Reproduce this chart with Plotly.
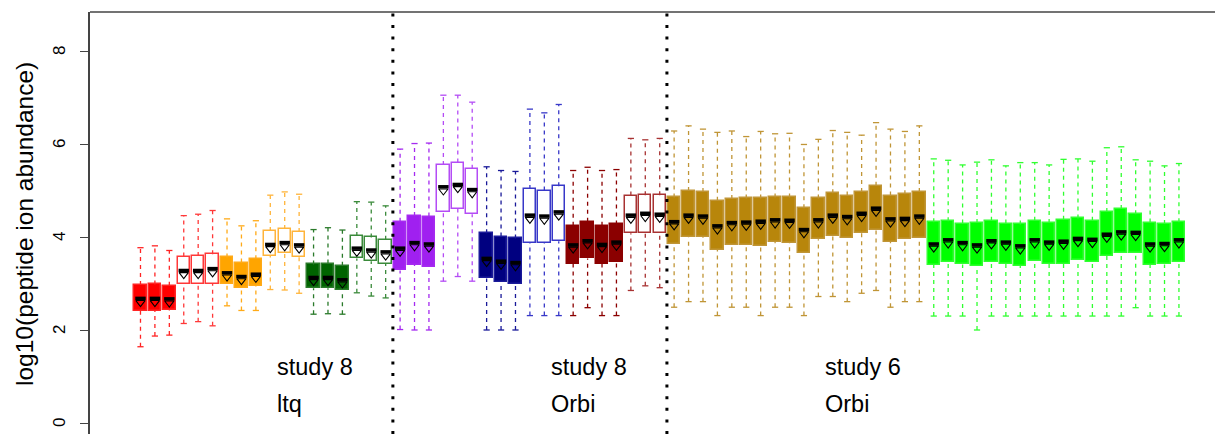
import plotly.graph_objects as go

# Per-run summaries of log10(peptide ion abundance):
# lower whisker, first quartile, median, third quartile, upper whisker, mean
whisker_low = [
    1.64, 1.87, 1.89, 2.14, 2.18, 2.09, 2.52, 2.42, 2.42, 2.87, 2.86, 2.79, 2.34, 2.35, 2.34, 2.80, 2.73, 2.69,
    2.01, 2.00, 2.00, 3.05, 3.15, 3.05, 2.00, 2.00, 2.00, 2.31, 2.31, 2.31, 2.31, 2.48, 2.31, 2.31, 2.85, 2.95, 2.91,
    2.49, 2.61, 2.61, 2.31, 2.49, 2.49, 2.31, 2.49, 2.49, 2.31, 2.72, 2.72, 2.61, 2.79, 2.85, 2.49, 2.61, 2.61,
    2.30, 2.30, 2.30, 2.00, 2.30, 2.30, 2.30, 2.30, 2.30, 2.30, 2.30, 2.30, 2.30, 2.30, 2.48, 2.30, 2.30, 2.30,
]
quartile_1 = [
    2.41, 2.41, 2.42, 2.99, 2.99, 3.00, 2.99, 2.90, 2.95, 3.60, 3.65, 3.58, 2.90, 2.90, 2.85, 3.54, 3.48, 3.43,
    3.28, 3.40, 3.36, 4.53, 4.60, 4.49, 3.11, 3.04, 3.00, 3.87, 3.87, 3.91, 3.43, 3.54, 3.43, 3.47, 4.08, 4.09, 4.09,
    3.85, 3.99, 4.01, 3.73, 3.83, 3.83, 3.81, 3.90, 3.88, 3.66, 3.95, 4.02, 3.97, 4.08, 4.16, 3.90, 3.95, 3.97,
    3.40, 3.46, 3.41, 3.38, 3.46, 3.42, 3.38, 3.48, 3.43, 3.43, 3.51, 3.47, 3.60, 3.65, 3.66, 3.40, 3.41, 3.47,
]
medians = [
    2.68, 2.68, 2.67, 3.28, 3.28, 3.32, 3.23, 3.15, 3.20, 3.84, 3.88, 3.83, 3.13, 3.13, 3.08, 3.76, 3.72, 3.68,
    3.76, 3.88, 3.85, 5.08, 5.13, 5.02, 3.54, 3.48, 3.45, 4.47, 4.45, 4.54, 3.83, 3.92, 3.84, 3.89, 4.47, 4.51, 4.49,
    4.33, 4.47, 4.45, 4.24, 4.31, 4.32, 4.34, 4.37, 4.36, 4.16, 4.37, 4.47, 4.44, 4.51, 4.62, 4.39, 4.40, 4.45,
    3.85, 3.94, 3.88, 3.83, 3.92, 3.89, 3.81, 3.94, 3.89, 3.91, 3.97, 3.95, 4.06, 4.11, 4.10, 3.85, 3.86, 3.94,
]
quartile_3 = [
    2.97, 2.98, 2.95, 3.58, 3.59, 3.63, 3.56, 3.45, 3.52, 4.13, 4.17, 4.11, 3.41, 3.43, 3.38, 4.02, 3.99, 3.94,
    4.33, 4.45, 4.44, 5.55, 5.60, 5.47, 4.08, 4.01, 3.97, 5.03, 5.00, 5.09, 4.24, 4.33, 4.24, 4.27, 4.89, 4.90, 4.90,
    4.85, 4.99, 4.97, 4.78, 4.82, 4.83, 4.83, 4.85, 4.85, 4.62, 4.83, 4.94, 4.89, 4.97, 5.10, 4.89, 4.92, 4.97,
    4.32, 4.34, 4.29, 4.30, 4.35, 4.29, 4.27, 4.35, 4.30, 4.37, 4.40, 4.35, 4.54, 4.60, 4.49, 4.31, 4.28, 4.32,
]
whisker_high = [
    3.77, 3.81, 3.71, 4.46, 4.49, 4.57, 4.39, 4.24, 4.35, 4.90, 4.97, 4.92, 4.16, 4.20, 4.15, 4.76, 4.75, 4.67,
    5.89, 6.01, 6.02, 7.05, 7.05, 6.90, 5.51, 5.43, 5.41, 6.75, 6.67, 6.85, 5.43, 5.50, 5.43, 5.45, 6.12, 6.09, 6.12,
    6.28, 6.39, 6.32, 6.25, 6.28, 6.16, 6.27, 6.22, 6.23, 5.99, 6.10, 6.29, 6.25, 6.19, 6.46, 6.32, 6.27, 6.39,
    5.68, 5.65, 5.55, 5.61, 5.66, 5.53, 5.60, 5.60, 5.55, 5.67, 5.68, 5.63, 5.92, 5.94, 5.66, 5.63, 5.53, 5.58,
]
means = [
    2.59, 2.59, 2.58, 3.19, 3.19, 3.23, 3.14, 3.06, 3.11, 3.75, 3.79, 3.74, 3.04, 3.04, 2.99, 3.67, 3.63, 3.59,
    3.67, 3.79, 3.76, 4.99, 5.04, 4.93, 3.45, 3.39, 3.36, 4.38, 4.36, 4.45, 3.74, 3.83, 3.75, 3.80, 4.38, 4.42, 4.40,
    4.24, 4.38, 4.36, 4.15, 4.22, 4.23, 4.25, 4.28, 4.27, 4.07, 4.28, 4.38, 4.35, 4.42, 4.53, 4.30, 4.31, 4.36,
    3.76, 3.85, 3.79, 3.74, 3.83, 3.80, 3.72, 3.85, 3.80, 3.82, 3.88, 3.86, 3.97, 4.02, 4.01, 3.76, 3.77, 3.85,
]

# y-axis ticks
y_ticks = [0, 2, 4, 6, 8]

# Study blocks: label lines and boundaries between them
study_titles = ["study 8", "study 8", "study 6"]
study_instruments = ["ltq", "Orbi", "Orbi"]
study_label_x = [10.3, 29.3, 48.3]
study_dividers = [18.5, 37.5]

# Replicate groups: (number of runs, colour, outline colour, solid fill)
groups = [
    (3, "#FF0000", "#FF2424", True),
    (3, "#FF0000", "#FF3838", False),
    (3, "#FFA500", "#FFAA18", True),
    (3, "#FFA500", "#FFB43A", False),
    (3, "#006400", "#2A7A2A", True),
    (3, "#006400", "#3A8A3A", False),
    (3, "#A020F0", "#A52AF0", True),
    (3, "#A020F0", "#B44CF5", False),
    (3, "#000080", "#1A1A99", True),
    (3, "#0000CD", "#3838C8", False),
    (4, "#8B0000", "#8B0000", True),
    (3, "#8B0000", "#A83232", False),
    (18, "#B8860B", "#C09536", True),
    (18, "#00FF00", "#30FF30", True),
]

BOX_W = 0.86
CAP_W = 0.43
FONT = "Liberation Sans, Arial, Helvetica, sans-serif"

fig = go.Figure()

start = 1
for n, colour, outline, solid in groups:
    idx = list(range(start - 1, start - 1 + n))
    xs = [i + 1 for i in idx]

    # dashed whiskers
    wx, wy = [], []
    for i, x in zip(idx, xs):
        wx += [x, x, None, x, x, None]
        wy += [quartile_3[i], whisker_high[i], None, whisker_low[i], quartile_1[i], None]
    fig.add_trace(go.Scatter(x=wx, y=wy, mode="lines", hoverinfo="skip",
                             line=dict(color=outline, width=1.3, dash="4px,4px")))

    # whisker caps
    cx, cy = [], []
    for i, x in zip(idx, xs):
        for v in (whisker_high[i], whisker_low[i]):
            cx += [x - CAP_W / 2, x + CAP_W / 2, None]
            cy += [v, v, None]
    fig.add_trace(go.Scatter(x=cx, y=cy, mode="lines", hoverinfo="skip",
                             line=dict(color=outline, width=1.3)))

    # interquartile boxes
    fig.add_trace(go.Bar(
        x=xs,
        base=[quartile_1[i] for i in idx],
        y=[quartile_3[i] - quartile_1[i] for i in idx],
        width=BOX_W,
        marker=dict(color=colour if solid else "white",
                    line=dict(color=outline, width=1.5)),
        hoverinfo="skip",
    ))

    # medians
    mx, my = [], []
    for i, x in zip(idx, xs):
        mx += [x - BOX_W * 0.42, x + BOX_W * 0.42, None]
        my += [medians[i], medians[i], None]
    fig.add_trace(go.Scatter(x=mx, y=my, mode="lines", hoverinfo="skip",
                             line=dict(color="black", width=3.5)))

    # means
    fig.add_trace(go.Scatter(x=xs, y=[means[i] for i in idx], mode="markers", hoverinfo="skip",
                             marker=dict(symbol="triangle-down-open", size=8, color="black",
                                         line=dict(width=1.1, color="black"))))
    start += n

for xd in study_dividers:
    fig.add_shape(type="line", xref="x", yref="paper", x0=xd, x1=xd, y0=0, y1=1,
                  line=dict(color="black", width=3, dash="3px,8.6px"))

# top frame line
fig.add_shape(type="line", xref="paper", yref="paper", x0=0, x1=1, y0=1, y1=1,
              line=dict(color="#444444", width=1.5))

for xl, title, inst in zip(study_label_x, study_titles, study_instruments):
    fig.add_annotation(x=xl, y=1.2, xref="x", yref="y", text=title, showarrow=False,
                       xanchor="left", yanchor="middle", font=dict(size=23.5, color="black", family=FONT))
    fig.add_annotation(x=xl, y=0.4, xref="x", yref="y", text=inst, showarrow=False,
                       xanchor="left", yanchor="middle", font=dict(size=23.5, color="black", family=FONT))

# rotated tick labels, parallel to the axis
for t in y_ticks:
    fig.add_annotation(x=-0.0275, y=t, xref="paper", yref="y", text=str(t), showarrow=False,
                       textangle=-90, xanchor="center", yanchor="middle",
                       font=dict(size=17, color="black", family=FONT))

fig.add_annotation(x=-0.0587, y=0.4976, xref="paper", yref="paper",
                   text="log10(peptide ion abundance)", showarrow=False, textangle=-90,
                   xanchor="center", yanchor="middle", font=dict(size=24.5, color="black", family=FONT))

fig.update_layout(
    width=1215, height=434,
    margin=dict(l=90, r=0, t=12, b=0),
    plot_bgcolor="white", paper_bgcolor="white",
    showlegend=False, barmode="overlay", bargap=0,
    font=dict(family=FONT, color="black"),
    xaxis=dict(range=[-2.5, 75.5], visible=False, showgrid=False, zeroline=False),
    yaxis=dict(range=[-0.2366, 8.839], tickvals=y_ticks, showticklabels=False,
               ticks="outside", ticklen=8, tickwidth=1.3, tickcolor="#444444",
               showline=True, linecolor="#444444", linewidth=1.5,
               showgrid=False, zeroline=False),
)

fig.write_html("out.html")
